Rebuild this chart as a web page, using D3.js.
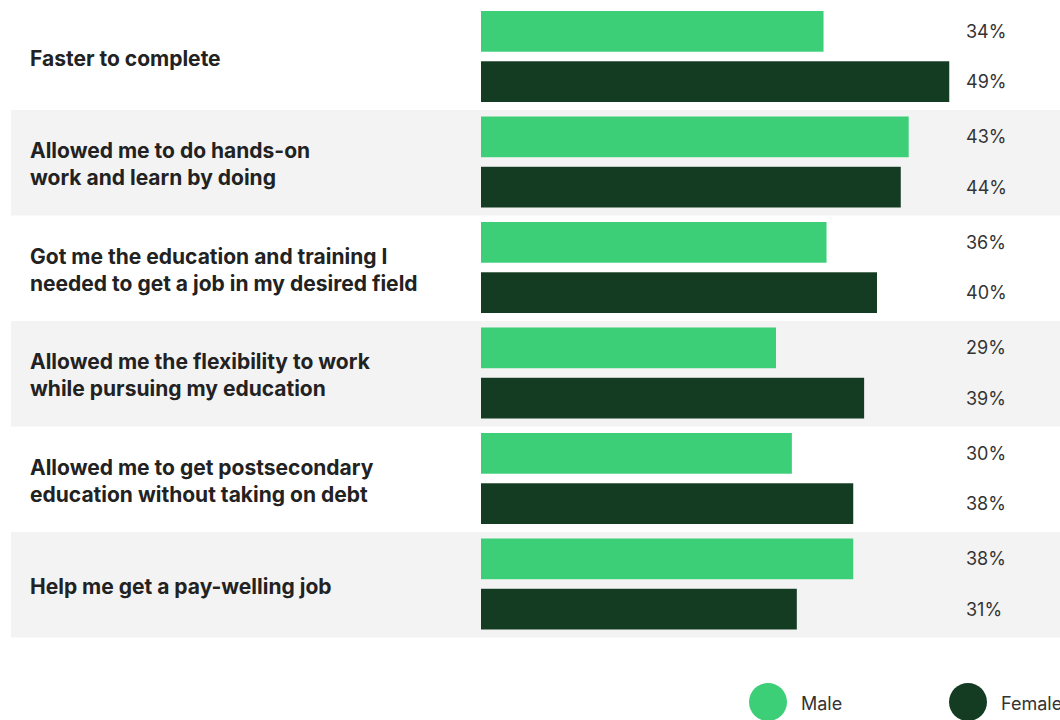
<!DOCTYPE html>
<html>
<head>
<meta charset="utf-8">
<script src="https://cdn.jsdelivr.net/npm/d3@7"></script>
<style>
  body { margin: 0; background: #fff; overflow: hidden; }
</style>
</head>
<body>
<div id="chart"></div>
<script>
// Categories (already split into the lines they wrap onto)
var categories = [
    ["Faster to complete"],
    ["Allowed me to do hands-on", "work and learn by doing"],
    ["Got me the education and training I", "needed to get a job in my desired field"],
    ["Allowed me the flexibility to work", "while pursuing my education"],
    ["Allowed me to get postsecondary", "education without taking on debt"],
    ["Help me get a pay-welling job"]
];

// Bar lengths (percent)
var maleValues = [34.6, 43.2, 34.9, 29.8, 31.4, 37.6];
var femaleValues = [47.3, 42.4, 40.0, 38.7, 37.6, 31.9];

// Printed labels
var maleLabels = ["34%", "43%", "36%", "29%", "30%", "38%"];
var femaleLabels = ["49%", "44%", "40%", "39%", "38%", "31%"];

var series = ["Male", "Female"];
var colors = ["#3ccf78", "#143c23"];

//SVG Size
var svgWidth = 1060;
var svgHeight = 720;

var svg = d3.select("#chart")
  .append("svg")
  .attr("width", svgWidth)
  .attr("height", svgHeight)
  .style("font-family", "Inter, 'Noto Sans', sans-serif");

//Row band scale
var y = d3.scaleBand()
    .domain(d3.range(categories.length))
    .range([4.5, 637.5])
    .padding(0);

//Bar length scale
var x = d3.scaleLinear()
    .domain([0, 50])
    .range([481, 976]);

var rows = svg.selectAll("g.row")
    .data(categories)
    .enter()
    .append("g")
    .attr("class", "row")
    .attr("transform", (d, i) => `translate(0,${y(i)})`);

//Gray band on every other row
rows.filter((d, i) => i % 2 == 1)
    .append("rect")
    .attr("x", 11)
    .attr("y", 0)
    .attr("width", svgWidth - 11)
    .attr("height", y.bandwidth())
    .attr("fill", "#f3f3f3");

//Category labels
rows.append("text")
    .attr("x", 30)
    .attr("fill", "#222")
    .style("font-size", "21px")
    .style("font-weight", 700)
    .each(function(lines) {
        var t = d3.select(this);
        var mid = y.bandwidth() / 2 + 1.5;
        lines.forEach(function(line, k) {
            t.append("tspan")
                .attr("x", 30)
                .attr("y", mid + (k - (lines.length - 1) / 2) * 27)
                .attr("dy", "0.36em")
                .text(line);
        });
    });

//Inner band for male / female bars
var inner = d3.scaleBand()
    .domain([0, 1])
    .range([6.5, 97.5])
    .paddingInner(0.19);

var valueSets = [maleValues, femaleValues];
var labelSets = [maleLabels, femaleLabels];

rows.each(function(d, i) {
    var g = d3.select(this);
    for (var s = 0; s < 2; s++) {
        g.append("rect")
            .attr("x", x(0))
            .attr("y", inner(s))
            .attr("width", x(valueSets[s][i]) - x(0))
            .attr("height", inner.bandwidth())
            .attr("fill", colors[s]);
        g.append("text")
            .attr("x", 966)
            .attr("y", inner(s) + inner.bandwidth() / 2)
            .attr("dy", "0.36em")
            .attr("fill", "#333")
            .style("font-size", "18px")
            .text(labelSets[s][i]);
    }
});

//Legend
var legendX = [768, 968];
var legend = svg.selectAll("g.legend")
    .data(series)
    .enter()
    .append("g")
    .attr("class", "legend")
    .attr("transform", (d, i) => `translate(${legendX[i]},702)`);

legend.append("circle")
    .attr("r", 19)
    .attr("fill", (d, i) => colors[i]);

legend.append("text")
    .attr("x", 33)
    .attr("y", 1.5)
    .attr("dy", "0.36em")
    .attr("fill", "#333")
    .style("font-size", "18px")
    .text(d => d);
</script>
</body>
</html>
